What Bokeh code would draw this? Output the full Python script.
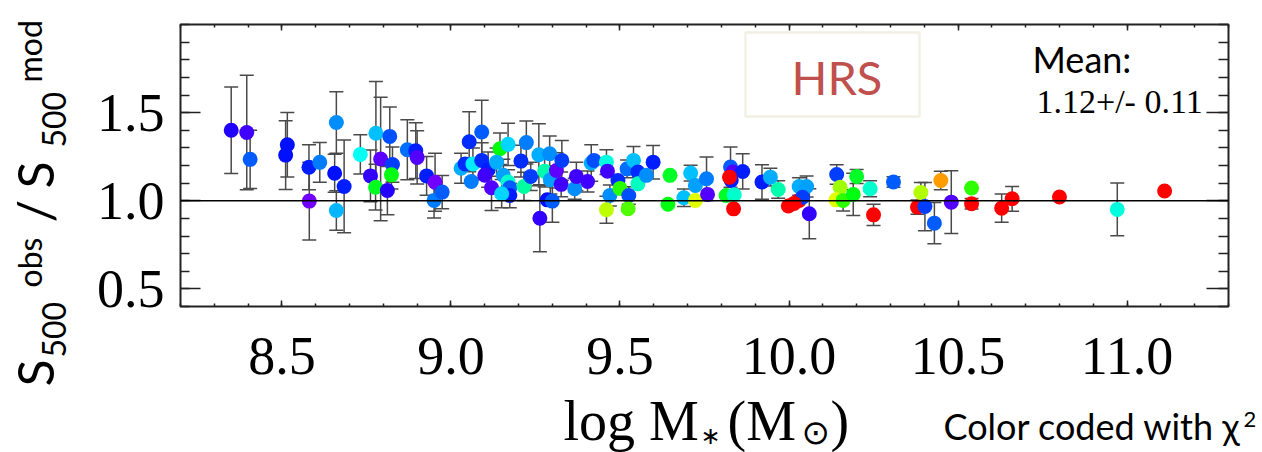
import colorsys
import math
from bokeh.plotting import figure
from bokeh.layouts import row, column
from bokeh.models import (ColumnDataSource, Whisker, TeeHead, Span, Label, BoxAnnotation,
                          LinearAxis, FixedTicker, PrintfTickFormatter, LinearColorMapper,
                          CustomLabelingPolicy)
from bokeh.embed import file_html
from bokeh.resources import INLINE

# ---------------- data ----------------
log_mstar = [8.35, 8.396, 8.406, 8.516, 8.511, 8.58, 8.581, 8.612, 8.661, 8.656,
             8.661, 8.684, 8.732, 8.778, 8.792, 8.762, 8.777, 8.819, 8.827, 8.824,
             8.812, 8.871, 8.896, 8.90, 8.928, 8.953, 8.950, 8.974, 9.03, 9.042,
             9.054, 9.065, 9.06, 9.091, 9.091, 9.11, 9.10, 9.12, 9.145, 9.169,
             9.135, 9.155, 9.169, 9.174, 9.174, 9.15, 9.216, 9.207, 9.223, 9.236,
             9.26, 9.292, 9.277, 9.294, 9.312, 9.328, 9.326, 9.285, 9.30, 9.263,
             9.366, 9.371, 9.404, 9.415, 9.423, 9.46, 9.463, 9.47, 9.46, 9.494,
             9.50, 9.521, 9.54, 9.553, 9.553, 9.526, 9.524, 9.578, 9.598, 9.648,
             9.642, 9.709, 9.689, 9.723, 9.723, 9.756, 9.759, 9.827, 9.834, 9.863,
             9.829, 9.824, 9.814, 9.838, 9.836, 9.92, 9.945, 9.968, 9.998, 10.03,
             10.03, 10.052, 10.04, 10.06, 10.141, 10.151, 10.139, 10.16, 10.19, 10.20,
             10.24, 10.25, 10.309, 10.38, 10.39, 10.402, 10.43, 10.449, 10.48, 10.54,
             10.54, 10.629, 10.66, 10.80, 10.971, 11.111, 10.015]
ratio = [1.40, 1.387, 1.235, 1.318, 1.259, 1.19, 0.998, 1.218, 1.444, 1.156,
         0.945, 1.081, 1.263, 1.383, 1.237, 1.141, 1.077, 1.365, 1.205, 1.147,
         1.058, 1.289, 1.284, 1.246, 1.141, 1.105, 1.002, 1.049, 1.184, 1.209,
         1.335, 1.209, 1.109, 1.39, 1.229, 1.176, 1.145, 1.074, 1.295, 1.32,
         1.219, 1.145, 1.106, 1.074, 1.03, 1.04, 1.081, 1.225, 1.33, 1.138,
         1.261, 1.267, 1.168, 1.119, 1.172, 1.229, 1.093, 1.005, 0.998, 0.901,
         1.068, 1.138, 1.109, 1.214, 1.229, 1.219, 1.168, 1.03, 0.949, 1.115,
         1.07, 1.181, 1.229, 1.163, 1.096, 1.03, 0.955, 1.144, 1.219, 1.144,
         0.98, 1.157, 1.017, 1.087, 1.002, 1.125, 1.036, 1.191, 1.163, 1.166,
         1.115, 1.134, 1.03, 1.034, 0.954, 1.106, 1.134, 1.064, 0.97, 1.002,
         1.081, 1.081, 1.02, 0.926, 1.149, 1.077, 1.005, 1.002, 1.036, 1.138,
         1.068, 0.92, 1.106, 0.964, 1.047, 0.967, 0.873, 1.115, 0.992, 1.072,
         0.983, 0.958, 1.011, 1.021, 0.951, 1.055, 0.985]
ratio_err = [0.245, 0.325, 0.165, 0.183, 0.195, 0.128, 0.22, 0.113, 0.174, 0.108,
             0.112, 0.263, 0.111, 0.294, 0.35, 0.147, 0.13, 0.167, 0.10, 0.08,
             0.137, 0.17, 0.158, 0.151, 0.11, 0.164, 0.10, 0.094, 0.085, 0.0,
             0.17, 0.09, 0.0, 0.18, 0.1, 0.1, 0.0, 0.13, 0.09, 0.12,
             0.08, 0.09, 0.07, 0.0, 0.07, 0.08, 0.08, 0.09, 0.122, 0.08,
             0.176, 0.1, 0.09, 0.08, 0.1, 0.113, 0.07, 0.0, 0.12, 0.19,
             0.06, 0.08, 0.06, 0.104, 0.0, 0.07, 0.0, 0.06, 0.076, 0.0,
             0.0, 0.05, 0.079, 0.0, 0.0, 0.05, 0.0, 0.0, 0.095, 0.0,
             0.0, 0.045, 0.05, 0.0, 0.0, 0.123, 0.0, 0.114, 0.0, 0.1,
             0.0, 0.0, 0.0, 0.0, 0.0, 0.098, 0.05, 0.05, 0.0, 0.0,
             0.05, 0.06, 0.0, 0.142, 0.055, 0.0, 0.0, 0.06, 0.12, 0.04,
             0.045, 0.06, 0.03, 0.04, 0.057, 0.137, 0.117, 0.053, 0.178, 0.0,
             0.03, 0.08, 0.07, 0.0, 0.15, 0.0, 0.0]
chi2 = [0.85, 0.55, 1.95, 1.25, 1.25, 1.4, 0.15, 2.2, 2.35, 1.25,
        2.7, 1.4, 3.4, 2.8, 0.35, 0.7, 5.3, 1.8, 1.65, 5.4,
        0.8, 2.1, 1.4, 0.4, 1.4, 0.15, 2.2, 1.95, 2.65, 1.5,
        1.5, 3.2, 2.2, 1.95, 1.5, 1.4, 0.55, 0.4, 5.5, 3.0,
        2.65, 2.5, 3.75, 1.95, 1.4, 3.0, 4.15, 1.5, 2.2, 1.65,
        2.65, 2.35, 4.05, 2.5, 0.3, 1.65, 0.55, 1.25, 1.95, 0.7,
        2.35, 0.55, 0.55, 2.65, 1.8, 3.6, 0.55, 2.35, 7.2, 1.5,
        5.9, 2.1, 2.8, 1.5, 3.9, 1.8, 6.25, 2.35, 1.4, 5.2,
        5.4, 2.8, 2.8, 2.5, 7.5, 2.2, 0.4, 1.95, 0.4, 1.4,
        1.4, 10.0, 5.2, 3.75, 10.0, 1.4, 2.65, 4.05, 10.0, 10.0,
        2.65, 2.5, 1.65, 0.7, 1.65, 6.95, 7.5, 5.95, 5.4, 5.2,
        3.75, 10.0, 1.95, 10.0, 7.1, 1.65, 1.95, 8.6, 0.4, 5.95,
        10.0, 10.0, 10.0, 10.0, 3.6, 10.0, 10.0]

x_ticks = [8.5, 9.0, 9.5, 10.0, 10.5, 11.0]
y_ticks = [0.5, 1.0, 1.5]
x_minor = [round(8.2 + 0.1 * i, 1) for i in range(32)]
y_minor = [round(0.4 + 0.1 * i, 1) for i in range(17)]
mean_text = ["Mean:", "1.12+/- 0.11"]

# ---------------- style / layout ----------------
W, H = 1262, 452
LEFT_W = 75            # left strip (y title)
MAIN_H = 384           # main plot height; bottom strip below it
FL, FR, FT, FB = 180, 1228, 24, 306   # frame edges in page pixels

SERIF = "Liberation Serif"
SANS = "Lato"
K = {SANS: 0.41, SERIF: 0.35, "DejaVu Sans": 0.38}   # baseline correction (em)

palette = []
for i in range(256):
    h = 270.0 * (1 - i / 255.0) / 360.0
    r, g, b = colorsys.hsv_to_rgb(h, 1, 1)
    palette.append("#%02x%02x%02x" % (int(r * 255), int(g * 255), int(b * 255)))
mapper = LinearColorMapper(palette=palette, low=0, high=10)

src = ColumnDataSource(dict(x=log_mstar, y=ratio, c=chi2))
eb_x, eb_lo, eb_hi = [], [], []
for xv, yv, ev in zip(log_mstar, ratio, ratio_err):
    if ev > 0:
        eb_x.append(xv); eb_lo.append(yv - ev); eb_hi.append(yv + ev)
eb_src = ColumnDataSource(dict(x=eb_x, lower=eb_lo, upper=eb_hi))

p = figure(width=W - LEFT_W, height=MAIN_H, x_range=(8.2, 11.3), y_range=(0.4, 2.0),
           output_backend="svg", toolbar_location=None,
           min_border_left=FL - LEFT_W, min_border_right=W - FR,
           min_border_top=FT, min_border_bottom=MAIN_H - FB)
p.grid.visible = False
p.outline_line_color = "#222222"
p.outline_line_width = 2

xax = p.xaxis[0]
xax.ticker = FixedTicker(ticks=x_ticks, minor_ticks=x_minor)
xax.formatter = PrintfTickFormatter(format="%.1f")
yax = p.yaxis[0]
yax.ticker = FixedTicker(ticks=y_ticks, minor_ticks=y_minor)
yax.formatter = PrintfTickFormatter(format="%.1f")

def style_axis(ax, tin, mtin):
    ax.axis_line_color = None
    ax.major_tick_out = 0
    ax.minor_tick_out = 0
    ax.major_tick_in = tin
    ax.minor_tick_in = mtin
    ax.major_tick_line_color = "#222222"
    ax.minor_tick_line_color = "#222222"
    ax.major_tick_line_width = 1.5
    ax.minor_tick_line_width = 1.5

style_axis(xax, 6, 3)
style_axis(yax, 20, 9)
for ax in (xax, yax):
    ax.major_label_text_font = SERIF
    ax.major_label_text_font_size = "54px"
    ax.major_label_text_color = "black"
xax.major_label_standoff = 31
yax.major_label_standoff = 16

hide_labels = CustomLabelingPolicy(code="""
const idx = [];
for (const i of indices) idx.push(i);
for (const i of idx) indices.unset(i);
return indices;
""")
top = LinearAxis(ticker=FixedTicker(ticks=x_ticks, minor_ticks=x_minor),
                 major_label_policy=hide_labels)
right = LinearAxis(ticker=FixedTicker(ticks=y_ticks, minor_ticks=y_minor),
                   major_label_policy=hide_labels)
style_axis(top, 6, 3)
style_axis(right, 22, 10)
for ax in (top, right):
    ax.major_label_standoff = 0
p.add_layout(top, "above")
p.add_layout(right, "right")

# error bars, reference line, points
wh = Whisker(source=eb_src, base="x", lower="lower", upper="upper",
             line_color="#4a4a4a", line_width=1.5,
             upper_head=TeeHead(size=14, line_color="#4a4a4a", line_width=1.5),
             lower_head=TeeHead(size=14, line_color="#4a4a4a", line_width=1.5))
p.add_layout(wh)
p.add_layout(Span(location=1.0, dimension="width", line_color="black", line_width=1.5))
p.scatter("x", "y", source=src, size=15, line_color=None,
          fill_color={"field": "c", "transform": mapper})


def strip(w, h):
    f = figure(width=w, height=h, output_backend="svg", toolbar_location=None,
               min_border=0, x_range=(0, 1), y_range=(0, 1))
    f.axis.visible = False
    f.grid.visible = False
    f.outline_line_color = None
    if "frame_align" in f.properties():
        f.frame_align = False
    return f


left = strip(LEFT_W, H)
bottom = strip(W - LEFT_W, H - MAIN_H)


def lab(fig, ox, oy, fh, txt, px, py, size, font, angle=0.0, color="black"):
    """Place text with its baseline start at page pixel (px, py)."""
    k = K[font] * size
    if angle == 0.0:
        x_s, y_s = px - ox, (oy + fh - py) + k
    else:
        x_s, y_s = px - ox - k, (oy + fh - py)
    fig.add_layout(Label(x=x_s, y=y_s, x_units="screen", y_units="screen", text=txt,
                         text_font=font, text_font_size="%dpx" % size, text_color=color,
                         text_align="left", text_baseline="alphabetic", angle=angle))


def main_lab(txt, px, py, size, font, color="black"):
    lab(p, FL, FT, FB - FT, txt, px, py, size, font, color=color)


# HRS box
p.add_layout(BoxAnnotation(left=745 - FL, right=919 - FL, top=FB - 32, bottom=FB - 116,
                           left_units="screen", right_units="screen",
                           top_units="screen", bottom_units="screen",
                           fill_color=None, line_color="#d3cba6", line_width=2.5))
main_lab("HRS", 791, 96, 47, SANS, color="#c0504d")
main_lab(mean_text[0], 1032, 73, 36, SANS)
main_lab(mean_text[1], 1036, 113, 34, SERIF)

# x title pieces (bottom strip: page x from LEFT_W, page y from MAIN_H)
def blab(txt, px, py, size, font=SERIF):
    lab(bottom, LEFT_W, MAIN_H, H - MAIN_H, txt, px, py, size, font)

blab("log M", 563, 440, 56)
blab("\u2217", 700, 445, 24, "DejaVu Sans")
blab("(M", 727, 440, 56)
blab("\u2299", 801, 444, 34, "DejaVu Sans")
blab(")", 830, 440, 56)
blab("Color coded with \u03c7", 943, 440, 36, SANS)
blab("2", 1243, 428, 22, SANS)

# y title pieces (left strip, rotated, reading upward)
A = math.pi / 2
def llab(txt, px, py, size):
    lab(left, 0, 0, H, txt, px, py, size, SANS, angle=A)

llab("S", 55, 386, 50)
llab("500", 67, 357, 32)
llab("obs", 42, 287, 32)
llab("/", 55, 222, 50)
llab("S", 55, 188, 50)
llab("500", 67, 147, 32)
llab("mod", 42, 82, 32)

layout = row(left, column(p, bottom, spacing=0), spacing=0)
open("out.html", "w").write(file_html(layout, INLINE))
